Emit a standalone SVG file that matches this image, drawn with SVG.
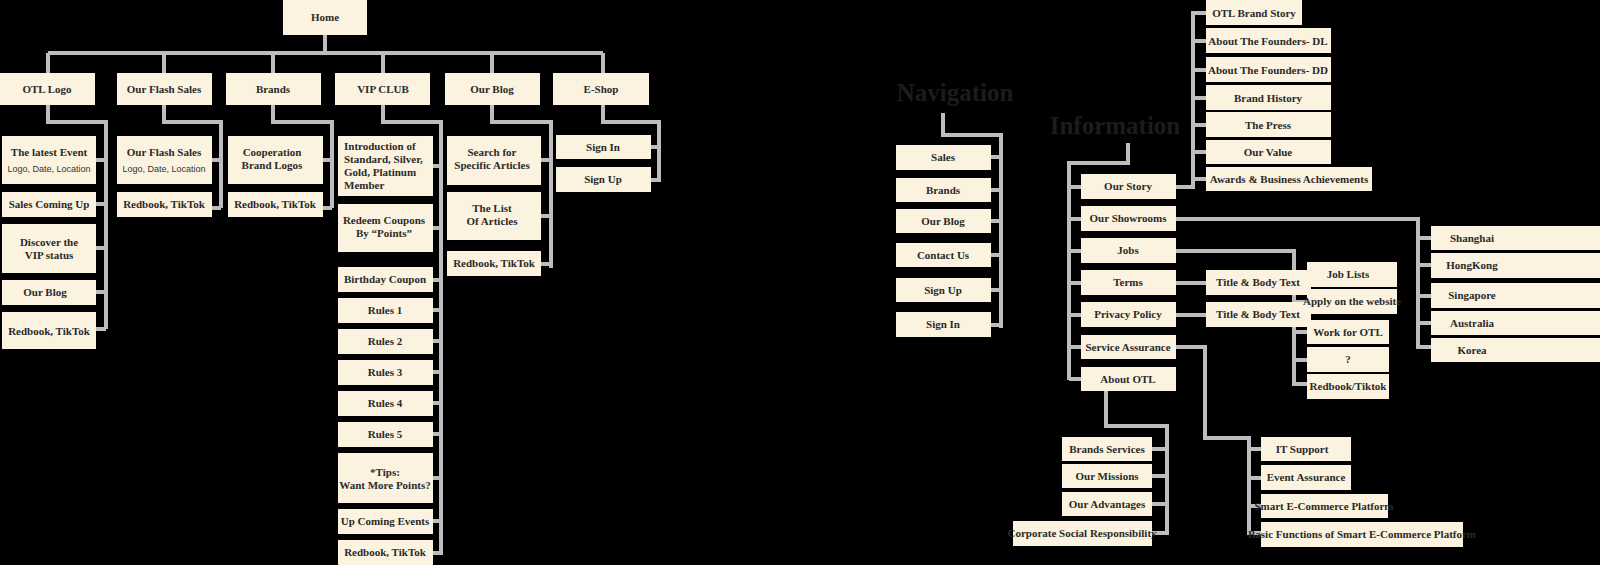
<svg xmlns="http://www.w3.org/2000/svg" width="1600" height="565" viewBox="0 0 1600 565">
<style>
.b{fill:#fbf3df}
.t{font-family:"Liberation Serif",serif;font-weight:bold;font-size:11px;fill:#2a2a2a;text-anchor:middle}
.s{font-family:"Liberation Sans",sans-serif;font-size:9px;fill:#333;text-anchor:middle}
.h{font-family:"Liberation Serif",serif;font-weight:bold;font-size:25px;fill:#1c1c1c;text-anchor:middle}
.c{fill:none;stroke:#bdbdbd;stroke-width:4}
</style>
<rect width="1600" height="565" fill="#000"/>
<g id="connectors" class="c">
<path d="M325 35V53M48 53H603M48 53V73M164 53V73M273 53V73M383 53V73M492 53V73M603 53V73"/>
<path d="M48 105V122H106V329M96 160H106M96 204H106M96 248H106M96 292H106M96 329H106"/>
<path d="M164 105V122H221V208M212 160H221M212 208H221"/>
<path d="M273 105V122H332V208M323 160H332M323 208H332"/>
<path d="M383 105V122H441V555M433 166H441M433 228H441M433 280H441M433 310H441M433 341H441M433 372H441M433 403H441M433 434H441M433 478H441M433 521H441M433 553H441"/>
<path d="M492 105V122H551V268M541 160H551M541 216H551M541 264H551"/>
<path d="M603 105V122H659V182M651 147H659M651 180H659"/>
<path d="M943 113V135H1001V328M991 157H1001M991 190H1001M991 221H1001M991 255H1001M991 290H1001M991 325H1001"/>
<path d="M1128 143V163H1069V380M1069 187H1081M1069 219H1081M1069 251H1081M1069 283H1081M1069 315H1081M1069 347H1081M1069 379H1081"/>
<path d="M1176 187H1193V13H1206M1193 41H1206M1193 70H1206M1193 98H1206M1193 125H1206M1193 152H1206M1193 179H1206"/>
<path d="M1176 219H1418V347H1431M1418 238H1431M1418 265H1431M1418 296H1431M1418 323H1431"/>
<path d="M1176 251H1294V384H1307M1294 275H1307M1294 302H1307M1294 332H1307M1294 360H1307"/>
<path d="M1176 283H1206M1176 315H1206"/>
<path d="M1176 347H1205V438H1249V533H1261M1249 449H1261M1249 478H1261M1249 506H1261"/>
<path d="M1106 391V426H1167V533H1152M1167 449H1152M1167 476H1152M1167 504H1152"/>
</g>
<g id="home"><rect class="b" x="283" y="0" width="84" height="35"/><text class="t" x="325" y="21">Home</text></g>
<g id="otl-logo"><rect class="b" x="0" y="73" width="95" height="32"/><text class="t" x="47" y="93">OTL Logo</text></g>
<g id="flash"><rect class="b" x="117" y="73" width="95" height="32"/><text class="t" x="164" y="93">Our Flash Sales</text></g>
<g id="brands"><rect class="b" x="226" y="73" width="95" height="32"/><text class="t" x="273" y="93">Brands</text></g>
<g id="vip"><rect class="b" x="335" y="73" width="95" height="32"/><text class="t" x="383" y="93">VIP CLUB</text></g>
<g id="blog"><rect class="b" x="445" y="73" width="95" height="32"/><text class="t" x="492" y="93">Our Blog</text></g>
<g id="eshop"><rect class="b" x="553" y="73" width="96" height="32"/><text class="t" x="601" y="93">E-Shop</text></g>
<g id="latest"><rect class="b" x="2" y="136" width="94" height="48"/><text class="t" x="49" y="156">The latest Event</text><text class="s" x="49" y="172">Logo, Date, Location</text></g>
<g id="salescoming"><rect class="b" x="2" y="192" width="94" height="25"/><text class="t" x="49" y="208">Sales Coming Up</text></g>
<g id="discover"><rect class="b" x="2" y="224" width="94" height="49"/><text class="t" x="49" y="246">Discover the</text><text class="t" x="49" y="259">VIP status</text></g>
<g id="ourblog1"><rect class="b" x="2" y="280" width="94" height="25"/><text class="t" x="45" y="296">Our Blog</text></g>
<g id="redbook1"><rect class="b" x="2" y="312" width="94" height="37"/><text class="t" x="49" y="335">Redbook, TikTok</text></g>
<g id="flash2"><rect class="b" x="117" y="136" width="95" height="48"/><text class="t" x="164" y="156">Our Flash Sales</text><text class="s" x="164" y="172">Logo, Date, Location</text></g>
<g id="redbook2"><rect class="b" x="117" y="192" width="95" height="25"/><text class="t" x="164" y="208">Redbook, TikTok</text></g>
<g id="coop"><rect class="b" x="228" y="136" width="95" height="48"/><text class="t" x="272" y="156">Cooperation</text><text class="t" x="272" y="169">Brand Logos</text></g>
<g id="redbook3"><rect class="b" x="228" y="192" width="95" height="25"/><text class="t" x="275" y="208">Redbook, TikTok</text></g>
<g id="intro"><rect class="b" x="338" y="136" width="95" height="60"/><text class="t" x="344" y="150" style="text-anchor:start">Introduction of</text><text class="t" x="344" y="163" style="text-anchor:start">Standard, Silver,</text><text class="t" x="344" y="176" style="text-anchor:start">Gold, Platinum</text><text class="t" x="344" y="189" style="text-anchor:start">Member</text></g>
<g id="redeem"><rect class="b" x="338" y="204" width="95" height="48"/><text class="t" x="384" y="224">Redeem Coupons</text><text class="t" x="384" y="237">By “Points”</text></g>
<g id="birthday"><rect class="b" x="338" y="267" width="95" height="25"/><text class="t" x="385" y="283">Birthday Coupon</text></g>
<g id="rules1"><rect class="b" x="338" y="298" width="95" height="25"/><text class="t" x="385" y="314">Rules 1</text></g>
<g id="rules2"><rect class="b" x="338" y="329" width="95" height="25"/><text class="t" x="385" y="345">Rules 2</text></g>
<g id="rules3"><rect class="b" x="338" y="360" width="95" height="25"/><text class="t" x="385" y="376">Rules 3</text></g>
<g id="rules4"><rect class="b" x="338" y="391" width="95" height="25"/><text class="t" x="385" y="407">Rules 4</text></g>
<g id="rules5"><rect class="b" x="338" y="422" width="95" height="25"/><text class="t" x="385" y="438">Rules 5</text></g>
<g id="tips"><rect class="b" x="338" y="453" width="95" height="50"/><text class="t" x="385" y="476">*Tips:</text><text class="t" x="385" y="489">Want More Points?</text></g>
<g id="upcoming"><rect class="b" x="338" y="509" width="95" height="25"/><text class="t" x="385" y="525">Up Coming Events</text></g>
<g id="redbook4"><rect class="b" x="338" y="540" width="95" height="25"/><text class="t" x="385" y="556">Redbook, TikTok</text></g>
<g id="search"><rect class="b" x="447" y="136" width="94" height="49"/><text class="t" x="492" y="156">Search for</text><text class="t" x="492" y="169">Specific Articles</text></g>
<g id="list"><rect class="b" x="447" y="192" width="94" height="48"/><text class="t" x="492" y="212">The List</text><text class="t" x="492" y="225">Of Articles</text></g>
<g id="redbook5"><rect class="b" x="447" y="251" width="94" height="25"/><text class="t" x="494" y="267">Redbook, TikTok</text></g>
<g id="signin1"><rect class="b" x="556" y="135" width="95" height="24"/><text class="t" x="603" y="151">Sign In</text></g>
<g id="signup1"><rect class="b" x="556" y="167" width="95" height="25"/><text class="t" x="603" y="183">Sign Up</text></g>
<g id="navigation"><text class="h" x="955" y="101">Navigation</text></g>
<g id="nav-sales"><rect class="b" x="896" y="145" width="95" height="25"/><text class="t" x="943" y="161">Sales</text></g>
<g id="nav-brands"><rect class="b" x="896" y="178" width="95" height="24"/><text class="t" x="943" y="194">Brands</text></g>
<g id="nav-blog"><rect class="b" x="896" y="209" width="95" height="24"/><text class="t" x="943" y="225">Our Blog</text></g>
<g id="nav-contact"><rect class="b" x="896" y="243" width="95" height="24"/><text class="t" x="943" y="259">Contact Us</text></g>
<g id="nav-signup"><rect class="b" x="896" y="278" width="95" height="24"/><text class="t" x="943" y="294">Sign Up</text></g>
<g id="nav-signin"><rect class="b" x="896" y="312" width="95" height="25"/><text class="t" x="943" y="328">Sign In</text></g>
<g id="information"><text class="h" x="1115" y="134">Information</text></g>
<g id="story"><rect class="b" x="1081" y="174" width="95" height="25"/><text class="t" x="1128" y="190">Our Story</text></g>
<g id="showrooms"><rect class="b" x="1081" y="206" width="95" height="25"/><text class="t" x="1128" y="222">Our Showrooms</text></g>
<g id="jobs"><rect class="b" x="1081" y="238" width="95" height="25"/><text class="t" x="1128" y="254">Jobs</text></g>
<g id="terms"><rect class="b" x="1081" y="270" width="95" height="25"/><text class="t" x="1128" y="286">Terms</text></g>
<g id="privacy"><rect class="b" x="1081" y="302" width="95" height="25"/><text class="t" x="1128" y="318">Privacy Policy</text></g>
<g id="service"><rect class="b" x="1081" y="335" width="95" height="24"/><text class="t" x="1128" y="351">Service Assurance</text></g>
<g id="about"><rect class="b" x="1081" y="367" width="95" height="24"/><text class="t" x="1128" y="383">About OTL</text></g>
<g id="brandstory"><rect class="b" x="1206" y="0" width="96" height="25"/><text class="t" x="1254" y="17">OTL Brand Story</text></g>
<g id="founders-dl"><rect class="b" x="1206" y="28" width="125" height="25"/><text class="t" x="1268" y="45">About The Founders- DL</text></g>
<g id="founders-dd"><rect class="b" x="1206" y="57" width="125" height="25"/><text class="t" x="1268" y="74">About The Founders- DD</text></g>
<g id="history"><rect class="b" x="1206" y="85" width="125" height="25"/><text class="t" x="1268" y="102">Brand History</text></g>
<g id="press"><rect class="b" x="1206" y="112" width="125" height="25"/><text class="t" x="1268" y="129">The Press</text></g>
<g id="value"><rect class="b" x="1206" y="140" width="125" height="24"/><text class="t" x="1268" y="156">Our Value</text></g>
<g id="awards"><rect class="b" x="1206" y="167" width="166" height="24"/><text class="t" x="1289" y="183">Awards &amp; Business Achievements</text></g>
<g id="tb1"><rect class="b" x="1206" y="270" width="105" height="25"/><text class="t" x="1258" y="286">Title &amp; Body Text</text></g>
<g id="tb2"><rect class="b" x="1206" y="302" width="105" height="25"/><text class="t" x="1258" y="318">Title &amp; Body Text</text></g>
<g id="shanghai"><rect class="b" x="1431" y="226" width="169" height="24"/><text class="t" x="1472" y="242">Shanghai</text></g>
<g id="hongkong"><rect class="b" x="1431" y="253" width="169" height="25"/><text class="t" x="1472" y="269">HongKong</text></g>
<g id="singapore"><rect class="b" x="1431" y="283" width="169" height="25"/><text class="t" x="1472" y="299">Singapore</text></g>
<g id="australia"><rect class="b" x="1431" y="311" width="169" height="24"/><text class="t" x="1472" y="327">Australia</text></g>
<g id="korea"><rect class="b" x="1431" y="338" width="169" height="24"/><text class="t" x="1472" y="354">Korea</text></g>
<g id="joblists"><rect class="b" x="1307" y="262" width="90" height="25"/><text class="t" x="1348" y="278">Job Lists</text></g>
<g id="apply"><rect class="b" x="1307" y="289" width="90" height="25"/><text class="t" x="1352" y="305">Apply on the website</text></g>
<g id="work"><rect class="b" x="1307" y="320" width="82" height="24"/><text class="t" x="1348" y="336">Work for OTL</text></g>
<g id="question"><rect class="b" x="1307" y="347" width="82" height="25"/><text class="t" x="1348" y="363">?</text></g>
<g id="redbook-tiktok"><rect class="b" x="1307" y="374" width="82" height="25"/><text class="t" x="1348" y="390">Redbook/Tiktok</text></g>
<g id="it"><rect class="b" x="1261" y="437" width="90" height="24"/><text class="t" x="1302" y="453">IT Support</text></g>
<g id="event"><rect class="b" x="1261" y="465" width="90" height="25"/><text class="t" x="1306" y="481">Event Assurance</text></g>
<g id="smart"><rect class="b" x="1261" y="494" width="127" height="24"/><text class="t" x="1324" y="510">Smart E-Commerce Platform</text></g>
<g id="basic"><rect class="b" x="1261" y="522" width="202" height="25"/><text class="t" x="1362" y="538">Basic Functions of Smart E-Commerce Platform</text></g>
<g id="brandsservices"><rect class="b" x="1062" y="437" width="90" height="24"/><text class="t" x="1107" y="453">Brands Services</text></g>
<g id="missions"><rect class="b" x="1062" y="464" width="90" height="24"/><text class="t" x="1107" y="480">Our Missions</text></g>
<g id="advantages"><rect class="b" x="1062" y="492" width="90" height="24"/><text class="t" x="1107" y="508">Our Advantages</text></g>
<g id="csr"><rect class="b" x="1013" y="521" width="139" height="25"/><text class="t" x="1082" y="537">Corporate Social Responsibility</text></g>
</svg>
